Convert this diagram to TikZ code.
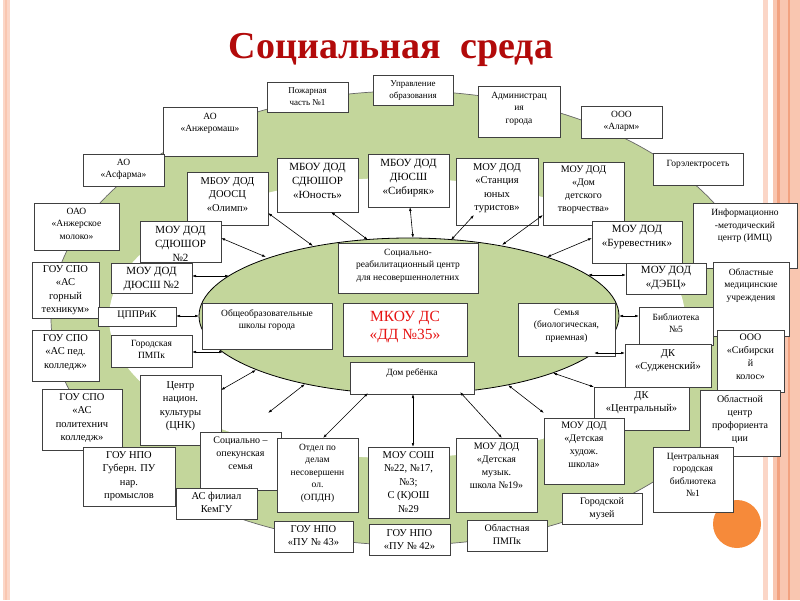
\documentclass[tikz,border=0pt]{standalone}
\usepackage{fontspec}
\setmainfont{Liberation Serif}
\usetikzlibrary{arrows.meta,calc}
\definecolor{gr}{RGB}{195,214,155}
\definecolor{pkA}{RGB}{251,214,199}
\definecolor{pkB}{RGB}{249,198,176}
\definecolor{pkC}{RGB}{242,162,128}
\definecolor{orng}{RGB}{246,138,58}
\definecolor{ttl}{RGB}{178,10,10}
\definecolor{redt}{RGB}{230,20,20}
\newcommand\bx[8]{%
  \node[bxs, minimum width={(#4-#2)*1pt}, minimum height={(#5-#3)*1pt}] (#1) at ({(#2+#4)/2},{(#3+#5)/2}) {};
  \node[txt, font={\fontsize{#6pt}{\dimexpr #6pt+3pt\relax}\selectfont}] (#1-t) at ($(#1.north)+(0,#7)$) {#8};
}
\begin{document}
\begin{tikzpicture}[x=1pt,y=-1pt,
  bxs/.style={draw=black!75, line width=0.9pt, fill=white, inner sep=0pt, outer sep=0pt},
  txt/.style={anchor=north, align=center, inner sep=0pt, text=black},
  arr/.style={line width=0.6pt, {Latex[length=4pt,width=2.6pt]}-{Latex[length=4pt,width=2.6pt]}}]
\useasboundingbox (0,0) rectangle (800,600);
\fill[white] (0,0) rectangle (800,600);
% decorations
\fill[pkA] (3,0) rectangle (10,600);
\fill[pkB] (5,0) rectangle (7,600);
\fill[pkA] (763,0) rectangle (768,600);
\fill[pkB] (773,0) rectangle (800,600);
\fill[pkC] (777,0) rectangle (780,600);
\fill[pkC] (788,0) rectangle (790,600);
\fill[orng] (737,524) circle (24pt);
% title
\node[text=ttl, font={\fontsize{38pt}{40pt}\selectfont\bfseries}] (title) at (391,50) {Социальная\ \ среда};
% ellipses
\filldraw[fill=gr, draw=black!60, line width=0.7pt] (407,318) ellipse [x radius=356pt, y radius=227pt];
\fill[white] (397,318) ellipse [x radius=288pt, y radius=140pt];
\filldraw[fill=gr, draw=black, line width=0.8pt] (409,316) ellipse [x radius=210pt, y radius=78pt];
% outer boxes
\bx{pozh}{267}{82}{348}{112}{9}{5}{Пожарная\\часть №1}
\bx{upr}{373}{75}{453}{105}{9}{5}{Управление\\образования}
\bx{adm}{478}{86}{560}{137}{9.5}{6}{Администрац\\ия\\города}
\bx{anzh}{163}{107}{257}{156}{9.5}{6}{АО\\«Анжеромаш»}
\bx{asf}{83}{154}{164}{186}{9.5}{5}{АО\\«Асфарма»}
\bx{mol}{34}{203}{119}{250}{9.5}{5}{ОАО\\«Анжерское\\молоко»}
\bx{olimp}{187}{172}{268}{225}{10.5}{5}{МБОУ ДОД\\ДООСЦ\\«Олимп»}
\bx{sdu2}{140}{221}{221}{262}{11}{5}{МОУ ДОД\\СДЮШОР\\№2}
\bx{dus2}{111}{263}{192}{293}{11}{4}{МОУ ДОД\\ДЮСШ №2}
\bx{gt}{32}{262}{99}{318}{10.5}{3}{ГОУ СПО\\«АС\\горный\\техникум»}
\bx{cpp}{98}{307}{176}{326}{10}{4}{ЦППРиК}
\bx{gpm}{111}{335}{192}{367}{9.5}{5}{Городская\\ПМПк}
\bx{ped}{32}{330}{99}{381}{10.5}{4}{ГОУ СПО\\«АС пед.\\колледж»}
\bx{pol}{42}{389}{122}{450}{10.5}{4}{ГОУ СПО\\«АС\\политехнич\\колледж»}
\bx{cnk}{140}{375}{221}{445}{10.5}{6}{Центр\\национ.\\культуры\\(ЦНК)}
\bx{gub}{83}{447}{175}{506}{10.5}{4}{ГОУ НПО\\Губерн. ПУ\\нар.\\промыслов}
\bx{soc}{200}{432}{281}{490}{10}{5}{Социально –\\опекунская\\семья}
\bx{kem}{176}{488}{257}{519}{10.5}{4}{АС филиал\\КемГУ}
\bx{opd}{277}{438}{358}{512}{9.5}{6}{Отдел по\\делам\\несовершенн\\ол.\\(ОПДН)}
\bx{pu43}{274}{521}{353}{552}{10.5}{4}{ГОУ НПО\\«ПУ № 43»}
\bx{sosh}{368}{447}{449}{518}{10.5}{4}{МОУ СОШ\\№22, №17,\\№3;\\С (К)ОШ\\№29}
\bx{pu42}{369}{524}{450}{555}{10.5}{5}{ГОУ НПО\\«ПУ № 42»}
\bx{dms}{456}{438}{537}{512}{10}{5}{МОУ ДОД\\«Детская\\музык.\\школа №19»}
\bx{opm}{467}{520}{547}{551}{10}{4}{Областная\\ПМПк}
\bx{dkc}{594}{387}{689}{430}{10.5}{4}{ДК\\«Центральный»}
\bx{dhs}{544}{418}{624}{484}{10}{4}{МОУ ДОД\\«Детская\\худож.\\школа»}
\bx{gmu}{562}{493}{642}{524}{10}{4}{Городской\\музей}
\bx{imc}{693}{203}{797}{268}{9.5}{6}{Информационно\\-методический\\центр (ИМЦ)}
\bx{omu}{713}{262}{789}{336}{9.5}{6}{Областные\\медицинские\\учреждения}
\bx{sk}{717}{330}{784}{392}{10}{4}{ООО\\«Сибирски\\й\\колос»}
\bx{opc}{700}{390}{780}{456}{10}{5}{Областной\\центр\\профориента\\ции}
\bx{cgb}{653}{447}{733}{512}{9.5}{6}{Центральная\\городская\\библиотека\\№1}
\bx{bib5}{639}{307}{713}{345}{9.5}{6}{Библиотека\\№5}
\bx{sud}{625}{344}{711}{387}{10.5}{5}{ДК\\«Судженский»}
\bx{ddt}{543}{162}{624}{225}{10}{4}{МОУ ДОД\\«Дом\\детского\\творчества»}
\bx{bur}{592}{221}{682}{263}{11}{4}{МОУ ДОД\\«Буревестник»}
\bx{deb}{626}{263}{706}{294}{11}{3}{МОУ ДОД\\«ДЭБЦ»}
\bx{ges}{653}{153}{743}{185}{9.5}{7}{Горэлектросеть}
\bx{alarm}{581}{106}{662}{138}{9.5}{5}{ООО\\«Аларм»}
\bx{yun}{277}{158}{358}{212}{11}{5}{МБОУ ДОД\\СДЮШОР\\«Юность»}
\bx{sib}{368}{154}{449}{207}{11}{5}{МБОУ ДОД\\ДЮСШ\\«Сибиряк»}
\bx{stu}{456}{158}{538}{225}{10.5}{5}{МОУ ДОД\\«Станция\\юных\\туристов»}
% inner boxes
\bx{src}{338}{243}{478}{293}{9.5}{6}{Социально-\\реабилитационный центр\\для несовершеннолетних}
\bx{obsh}{202}{303}{332}{349}{9.5}{6}{Общеобразовательные\\школы города}
\bx{mkou}{343}{303}{467}{356}{15.5}{8}{\textcolor{redt}{МКОУ ДС}\\\textcolor{redt}{«ДД №35»}}
\bx{sem}{518}{303}{615}{356}{9.5}{6}{Семья\\(биологическая,\\приемная)}
\bx{dom}{350}{362}{474}{394}{9.5}{6}{Дом ребёнка}
% ellipse points
\coordinate (e1) at (313,246);
\coordinate (e2) at (266,257);
\coordinate (e3) at (229,276);
\coordinate (e4) at (199,316);
\coordinate (e5) at (223,352);
\coordinate (e6) at (368,240);
\coordinate (e7) at (413,238);
\coordinate (e8) at (451,240);
\coordinate (e9) at (502,245);
\coordinate (e10) at (547,257);
\coordinate (e11) at (588,275);
\coordinate (e12) at (619,316);
\coordinate (e13) at (594,353);
\coordinate (e14) at (553,373);
\coordinate (e15) at (508,385);
\coordinate (e16) at (460,392);
\coordinate (e17) at (413,394);
\coordinate (e18) at (368,393);
\coordinate (e19) at (305,384);
\coordinate (e20) at (256,370);
% connectors
\draw[arr] (e1) -- (olimp.east |- 0,213);
\draw[arr] (e2) -- (sdu2.east |- 0,238);
\draw[arr] (e3) -- (dus2.east |- 0,276);
\draw[arr] (e4) -- (cpp.east |- 0,316);
\draw[arr] (e5) -- (gpm.east |- 0,352);
\draw[arr] (e6) -- (yun.south -| 331,0);
\draw[arr] (e7) -- (sib.south -| 410,0);
\draw[arr] (e8) -- ($(stu.south -| 474,0)+(0,-10)$);
\draw[arr] (e9) -- (ddt.west |- 0,215);
\draw[arr] (e10) -- (bur.west |- 0,238);
\draw[arr] (e11) -- (deb.west |- 0,275);
\draw[arr] (e12) -- (bib5.west |- 0,316);
\draw[arr] (e13) -- (sud.west |- 0,353);
\draw[arr] (e14) -- (dkc.north west);
\draw[arr] (e15) -- ($(dhs.north west)+(0,-5)$);
\draw[arr] (e16) -- (dms.north -| 502,0);
\draw[arr] (e17) -- (sosh.north -| 413,0);
\draw[arr] (e18) -- (opd.north -| 323,0);
\draw[arr] (e19) -- ($(soc.north -| 268,0)+(0,-19)$);
\draw[arr] (e20) -- (cnk.east |- 0,390);
\end{tikzpicture}
\end{document}
